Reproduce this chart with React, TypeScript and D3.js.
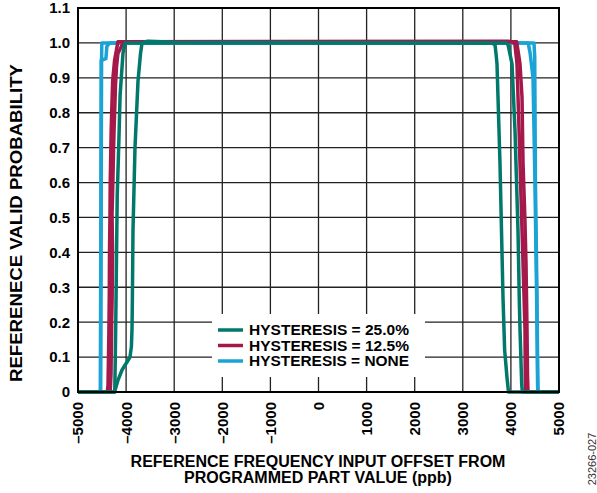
import React, { useEffect, useRef } from "react";
import * as d3 from "d3";

type Pt = [number, number];

const width = 597;
const height = 493;

const xTicks = [-5000, -4000, -3000, -2000, -1000, 0, 1000, 2000, 3000, 4000, 5000];
const yTicks = [0, 0.1, 0.2, 0.3, 0.4, 0.5, 0.6, 0.7, 0.8, 0.9, 1.0, 1.1];

// hysteresis = none, two sweeps
const noneA: Pt[] = [
  [-5000, 0], [-4530, 0], [-4522, 0.3], [-4515, 0.7], [-4510, 0.95], [-4505, 1.0],
  [4480, 1.0], [4495, 0.96], [4510, 0.6], [4540, 0.3], [4558, 0.05], [4565, 0], [5000, 0],
];
const noneB: Pt[] = [
  [-5000, 0], [-4535, 0], [-4525, 0.5], [-4518, 0.95], [-4420, 0.955], [-4400, 0.99], [-4340, 1.0],
  [4360, 1.0], [4400, 0.97], [4460, 0.9], [4500, 0.6], [4535, 0.27], [4555, 0.02], [4562, 0], [5000, 0],
];

// hysteresis = 12.5%
const h125A: Pt[] = [
  [-5000, 0], [-4390, 0], [-4376, 0.02], [-4360, 0.15], [-4350, 0.27], [-4345, 0.4], [-4335, 0.51],
  [-4330, 0.6], [-4310, 0.75], [-4300, 0.8], [-4280, 0.89], [-4240, 0.95], [-4200, 0.98], [-4170, 1.003],
  [3950, 1.005], [4080, 1.0], [4127, 0.94], [4148, 0.845], [4170, 0.75], [4189, 0.656], [4252, 0.37],
  [4293, 0.18], [4300, 0.02], [4310, 0], [5000, 0],
];
const h125B: Pt[] = [
  [-5000, 0], [-4330, 0], [-4314, 0.05], [-4300, 0.2], [-4290, 0.27], [-4282, 0.4], [-4292, 0.51],
  [-4275, 0.6], [-4260, 0.7], [-4250, 0.75], [-4220, 0.88], [-4200, 0.93], [-4170, 0.97], [-4050, 1.003],
  [4120, 1.003], [4189, 0.94], [4231, 0.845], [4252, 0.656], [4290, 0.5], [4314, 0.37], [4335, 0.18],
  [4345, 0.05], [4356, 0], [5000, 0],
];

// hysteresis = 25.0%
const h25A: Pt[] = [
  [-5000, 0], [-4235, 0], [-4215, 0.2], [-4185, 0.56], [-4150, 0.72], [-4125, 0.85], [-4065, 0.97],
  [-4020, 1.0], [3900, 1.0], [3940, 0.995], [4023, 0.94], [4085, 0.75], [4148, 0.46], [4175, 0.26],
  [4189, 0.18], [4225, 0.02], [4240, 0], [5000, 0],
];
const h25B: Pt[] = [
  [-5000, 0], [-4240, 0], [-4168, 0.034], [-4085, 0.063], [-3981, 0.086], [-3919, 0.1], [-3890, 0.13],
  [-3877, 0.18], [-3870, 0.26], [-3857, 0.46], [-3815, 0.7], [-3753, 0.89], [-3700, 0.97], [-3669, 1.0],
  [-3550, 1.005], [-3000, 1.002], [3600, 1.0], [3669, 0.995], [3690, 0.97], [3711, 0.94], [3773, 0.656],
  [3836, 0.27], [3870, 0.12], [3920, 0.04], [3950, 0], [5000, 0],
];

const seriesLabels = ["HYSTERESIS = 25.0%", "HYSTERESIS = 12.5%", "HYSTERESIS = NONE"];
const seriesColors = ["#00786c", "#a5194a", "#1ba3d6"];
const seriesTraces = [[h25A, h25B], [h125A, h125B], [noneA, noneB]];
const seriesWidths = [3.5, 3.5, 3.5];

const font = "'Liberation Sans', Arial, Helvetica, sans-serif";

export default function App() {
  const svgRef = useRef<SVGSVGElement>(null);

  useEffect(() => {
    if (!svgRef.current) return;
    const svg = d3.select(svgRef.current);
    svg.selectAll("*").remove();

    const left = 78, right = 559, top = 8, bottom = 392;

    const x = d3.scaleLinear().domain([-5000, 5000]).range([left, right]);
    const y = d3.scaleLinear().domain([0, 1.1]).range([bottom, top]);

    // grid
    const grid = svg.append("g").attr("stroke", "#222").attr("stroke-width", 1.3);
    xTicks.forEach((t) => {
      grid.append("line").attr("x1", x(t)).attr("x2", x(t)).attr("y1", top).attr("y2", bottom);
    });
    yTicks.forEach((t) => {
      grid.append("line").attr("x1", left).attr("x2", right).attr("y1", y(t)).attr("y2", y(t));
    });

    // legend background hides grid
    svg.append("rect")
      .attr("x", 212).attr("y", 314).attr("width", 213).attr("height", 63)
      .attr("fill", "#fff");

    const line = d3
      .line<Pt>()
      .x((d) => x(d[0]))
      .y((d) => y(d[1]));

    // draw none first, teal on top
    for (let i = seriesTraces.length - 1; i >= 0; i--) {
      seriesTraces[i].forEach((tr) => {
        svg.append("path")
          .datum(tr)
          .attr("fill", "none")
          .attr("stroke", seriesColors[i])
          .attr("stroke-width", seriesWidths[i])
          .attr("stroke-linejoin", "round")
          .attr("d", line);
      });
    }

    // frame
    svg.append("rect")
      .attr("x", left).attr("y", top)
      .attr("width", right - left).attr("height", bottom - top)
      .attr("fill", "none").attr("stroke", "#000").attr("stroke-width", 2);

    // y tick labels
    svg.append("g")
      .selectAll("text")
      .data(yTicks)
      .join("text")
      .attr("x", 70)
      .attr("y", (d) => y(d))
      .attr("dy", "0.36em")
      .attr("text-anchor", "end")
      .attr("font-family", font)
      .attr("font-weight", "bold")
      .attr("font-size", 15)
      .text((d) => (d === 0 ? "0" : d.toFixed(1)));

    // x tick labels, rotated
    svg.append("g")
      .selectAll("text")
      .data(xTicks)
      .join("text")
      .attr("transform", (d) => `translate(${x(d)},402) rotate(-90)`)
      .attr("dy", "0.36em")
      .attr("text-anchor", "end")
      .attr("font-family", font)
      .attr("font-weight", "bold")
      .attr("font-size", 15)
      .text((d) => (d < 0 ? "\u2013" + Math.abs(d) : String(d)));

    // axis titles
    const xt = svg.append("text")
      .attr("text-anchor", "middle")
      .attr("font-family", font)
      .attr("font-weight", "bold")
      .attr("font-size", 16);
    xt.append("tspan").attr("x", 318).attr("y", 467).text("REFERENCE FREQUENCY INPUT OFFSET FROM");
    xt.append("tspan").attr("x", 318).attr("y", 483).text("PROGRAMMED PART VALUE (ppb)");

    svg.append("text")
      .attr("transform", "translate(22,223) rotate(-90)")
      .attr("text-anchor", "middle")
      .attr("font-family", font)
      .attr("font-weight", "bold")
      .attr("font-size", 17)
      .attr("textLength", 318)
      .attr("lengthAdjust", "spacingAndGlyphs")
      .text("REFERENECE VALID PROBABILITY");

    svg.append("text")
      .attr("transform", "translate(596,459) rotate(-90)")
      .attr("text-anchor", "middle")
      .attr("font-family", font)
      .attr("font-size", 11)
      .attr("fill", "#333")
      .text("23266-027");

    // legend
    seriesLabels.forEach((lab, i) => {
      const ly = 330 + i * 15.5;
      svg.append("line")
        .attr("x1", 218).attr("x2", 243).attr("y1", ly).attr("y2", ly)
        .attr("stroke", seriesColors[i]).attr("stroke-width", 3.5);
      svg.append("text")
        .attr("x", 249).attr("y", ly).attr("dy", "0.36em")
        .attr("font-family", font)
        .attr("font-weight", "bold")
        .attr("font-size", 14.5)
        .attr("textLength", 160)
        .attr("lengthAdjust", "spacingAndGlyphs")
        .text(lab);
    });
  }, []);

  return (
    <div style={{ position: "absolute", left: 0, top: 0 }}>
      <svg ref={svgRef} width={width} height={height} style={{ display: "block", background: "#fff" }} />
    </div>
  );
}
